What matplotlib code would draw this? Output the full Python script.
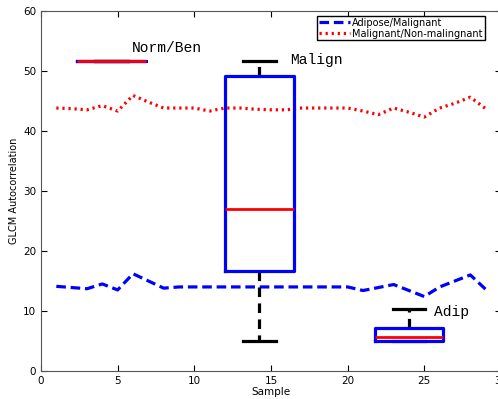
import matplotlib
matplotlib.use('Agg')
import matplotlib.pyplot as plt
import numpy as np

# sample index and the two difference curves
samples = list(range(1, 30))
adip_malig = [14.1, 13.9, 13.7, 14.5, 13.5, 16.2, 15.0, 13.8, 14.0, 14.0,
              14.0, 14.0, 14.0, 14.0, 14.0, 14.0, 14.0, 14.0, 14.0, 14.0,
              13.4, 13.9, 14.4, 13.4, 12.4, 14.0, 15.0, 16.0, 13.6]
malig_nonmalig = [43.8, 43.7, 43.5, 44.2, 43.3, 45.9, 44.8, 43.8, 43.8, 43.8,
                  43.3, 43.8, 43.8, 43.6, 43.5, 43.5, 43.8, 43.8, 43.8, 43.8,
                  43.3, 42.7, 43.8, 43.1, 42.3, 43.8, 44.6, 45.6, 43.7]

# box plot summaries
box_names = ['Norm/Ben', 'Malign', 'Adip']
box_pos = [4.6, 14.25, 24.0]
box_q1 = [51.7, 16.7, 5.0]
box_med = [51.7, 27.0, 5.7]
box_q3 = [51.7, 49.2, 7.1]
box_lo = [51.7, 5.0, 5.0]
box_hi = [51.7, 51.7, 10.3]

fig = plt.figure(figsize=(4.98, 3.99), dpi=100)
ax = fig.add_axes([0.0823, 0.0702, 0.9237, 0.9028])

ax.plot(samples, adip_malig, color='blue', ls=(0, (3, 1.5)), lw=2.3, label='Adipose/Malignant')
ax.plot(samples, malig_nonmalig, color='red', ls=(0, (0.7, 1.2)), lw=2.3, label='Malignant/Non-malingnant')

stats = []
for i in range(len(box_names)):
    stats.append(dict(med=box_med[i], q1=box_q1[i], q3=box_q3[i],
                      whislo=box_lo[i], whishi=box_hi[i], fliers=[]))
ax.bxp(stats, positions=box_pos, widths=4.45, showfliers=False, manage_ticks=False,
       boxprops=dict(color='blue', lw=2.3, zorder=3),
       medianprops=dict(color='red', lw=2.0, zorder=4),
       whiskerprops=dict(color='black', lw=2.3, ls=(0, (3, 2)), zorder=2),
       capprops=dict(color='black', lw=2.3, zorder=2), capwidths=[2.2, 2.2, 2.1])

ax.text(5.9, 53.8, 'Norm/Ben', family='Liberation Mono', fontsize=10.5, va='center')
ax.text(16.25, 51.8, 'Malign', family='Liberation Mono', fontsize=10.5, va='center')
ax.text(25.66, 9.9, 'Adip', family='Liberation Mono', fontsize=10.5, va='center')

ax.set_xlim(0, 30)
ax.set_ylim(0, 60)
ax.set_xticks(range(0, 31, 5))
ax.set_yticks(range(0, 61, 10))
ax.tick_params(direction='in', top=True, right=True, labelsize=7.5, length=4)
for s in ax.spines.values():
    s.set_color('#555555')
ax.set_xlabel('Sample', fontsize=7.5, labelpad=1)
ax.set_ylabel('GLCM Autocorrelation', fontsize=7, labelpad=3)

ax.legend(loc='upper right', bbox_to_anchor=(0.975, 1.0), fontsize=7, handlelength=3.2,
          fancybox=False, edgecolor='black', framealpha=1, borderpad=0.2,
          labelspacing=0.1, handletextpad=0.2, borderaxespad=0.5)

fig.savefig('out.png', dpi=100)
